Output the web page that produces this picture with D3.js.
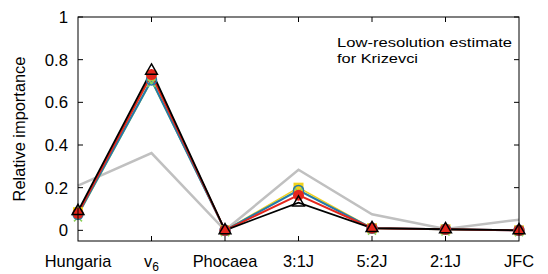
<!DOCTYPE html>
<html>
<head>
<meta charset="utf-8">
<script src="https://cdn.jsdelivr.net/npm/d3@7"></script>
<style>
  body { margin: 0; background: #fff; }
  text { font-family: "Liberation Sans", Arial, sans-serif; fill: #000; }
</style>
</head>
<body>
<script>
// categories along x
var categories = ['Hungaria', 'v6', 'Phocaea', '3:1J', '5:2J', '2:1J', 'JFC']
var yTicks = [0, 0.2, 0.4, 0.6, 0.8, 1]

// series values
var grayVals = [0.21, 0.362, 0.0, 0.284, 0.075, 0.006, 0.05]
var yellowVals = [0.085, 0.725, 0.0, 0.2, 0.01, 0.005, 0.0]
var greenVals = [0.07, 0.70, 0.0, 0.19, 0.008, 0.004, 0.0]
var blueVals = [0.075, 0.705, 0.0, 0.187, 0.01, 0.005, 0.0]
var redVals = [0.08, 0.73, 0.0, 0.165, 0.01, 0.005, 0.0]
var blackVals = [0.09, 0.748, 0.0, 0.13, 0.01, 0.005, 0.0]

var width = 548
var height = 274
var margin = { top: 17, right: 29, bottom: 33, left: 78 }

var svg = d3.select('body').append('svg')
  .attr('width', width)
  .attr('height', height)

var x = d3.scalePoint()
  .domain(categories)
  .range([margin.left, width - margin.right])

var y = d3.scaleLinear()
  .domain([-0.05, 1])
  .range([height - margin.bottom, margin.top])

var x0 = margin.left
var x1 = width - margin.right
var y0 = height - margin.bottom
var y1 = margin.top
var tk = 5

// ticks, inward on all four sides
var ticks = svg.append('g').attr('stroke', '#000').attr('stroke-width', 1)
yTicks.forEach(function (v) {
  ticks.append('line').attr('x1', x0).attr('x2', x0 + tk).attr('y1', y(v)).attr('y2', y(v))
  ticks.append('line').attr('x1', x1).attr('x2', x1 - tk).attr('y1', y(v)).attr('y2', y(v))
})
categories.slice(1, -1).forEach(function (c) {
  ticks.append('line').attr('x1', x(c)).attr('x2', x(c)).attr('y1', y0).attr('y2', y0 - tk)
  ticks.append('line').attr('x1', x(c)).attr('x2', x(c)).attr('y1', y1).attr('y2', y1 + tk)
})

// y tick labels
svg.append('g').selectAll('text')
  .data(yTicks)
  .enter().append('text')
  .attr('x', x0 - 10)
  .attr('y', function (d) { return y(d) })
  .attr('dy', '0.35em')
  .attr('text-anchor', 'end')
  .style('font-size', '16.8px')
  .text(d3.format('~g'))

// x labels
var xl = svg.append('g').selectAll('text')
  .data(categories)
  .enter().append('text')
  .attr('x', function (d) { return x(d) })
  .attr('y', 267)
  .attr('text-anchor', 'middle')
  .style('font-size', '16.4px')
xl.each(function (d) {
  var t = d3.select(this)
  if (d === 'v6') {
    t.append('tspan').text('v')
    t.append('tspan').attr('dy', 4).style('font-size', '12px').text('6')
  } else {
    t.text(d)
  }
})

// y axis title
svg.append('text')
  .attr('transform', 'translate(25,' + ((y0 + y1) / 2) + ') rotate(-90)')
  .attr('text-anchor', 'middle')
  .style('font-size', '16.4px')
  .text('Relative importance')

// annotation (glyphs drawn wider than usual in the original)
svg.append('text').attr('x', 337).attr('y', 47).style('font-size', '13px')
  .attr('textLength', 175).attr('lengthAdjust', 'spacingAndGlyphs')
  .text('Low-resolution estimate')
svg.append('text').attr('x', 337).attr('y', 63).style('font-size', '13px')
  .attr('textLength', 81).attr('lengthAdjust', 'spacingAndGlyphs')
  .text('for Krizevci')

var line = d3.line()
  .x(function (d, i) { return x(categories[i]) })
  .y(function (d) { return y(d) })

function drawLine (vals, color, w) {
  svg.append('path')
    .datum(vals)
    .attr('fill', 'none')
    .attr('stroke', color)
    .attr('stroke-width', w)
    .attr('stroke-linejoin', 'miter')
    .attr('d', line)
}

drawLine(grayVals, '#c0c0c0', 2.5)
drawLine(yellowVals, '#f0d020', 1.5)
drawLine(greenVals, '#80c060', 1.5)
drawLine(blueVals, '#2479ac', 2)
drawLine(redVals, '#e4261c', 2)
drawLine(blackVals, '#000', 1.8)

// markers
svg.append('g').selectAll('rect')
  .data(yellowVals)
  .enter().append('rect')
  .attr('x', function (d, i) { return x(categories[i]) - 5 })
  .attr('y', function (d) { return y(d) - 5 })
  .attr('width', 10)
  .attr('height', 10)
  .attr('fill', '#f2d21b')

svg.append('g').selectAll('path')
  .data(greenVals)
  .enter().append('path')
  .attr('transform', function (d, i) { return 'translate(' + x(categories[i]) + ',' + (y(d) + 2) + ')' })
  .attr('d', 'M-4,-4L4,4M-4,4L4,-4')
  .attr('stroke', '#8ccf5a')
  .attr('stroke-width', 1.5)

svg.append('g').selectAll('circle')
  .data(blueVals)
  .enter().append('circle')
  .attr('cx', function (d, i) { return x(categories[i]) })
  .attr('cy', function (d) { return y(d) })
  .attr('r', 5)
  .attr('fill', 'none')
  .attr('stroke', '#2479ac')
  .attr('stroke-width', 1.5)

svg.append('g').selectAll('circle')
  .data(redVals)
  .enter().append('circle')
  .attr('cx', function (d, i) { return x(categories[i]) })
  .attr('cy', function (d) { return y(d) })
  .attr('r', 5.5)
  .attr('fill', '#e4261c')

var tri = d3.symbol().type(d3.symbolTriangle).size(60)
svg.append('g').selectAll('path')
  .data(blackVals)
  .enter().append('path')
  .attr('transform', function (d, i) { return 'translate(' + x(categories[i]) + ',' + y(d) + ')' })
  .attr('d', tri)
  .attr('fill', 'none')
  .attr('stroke', '#000')
  .attr('stroke-width', 1.5)

// frame
svg.append('rect')
  .attr('x', x0)
  .attr('y', y1)
  .attr('width', x1 - x0)
  .attr('height', y0 - y1)
  .attr('fill', 'none')
  .attr('stroke', '#000')
  .attr('stroke-width', 1)
</script>
</body>
</html>
